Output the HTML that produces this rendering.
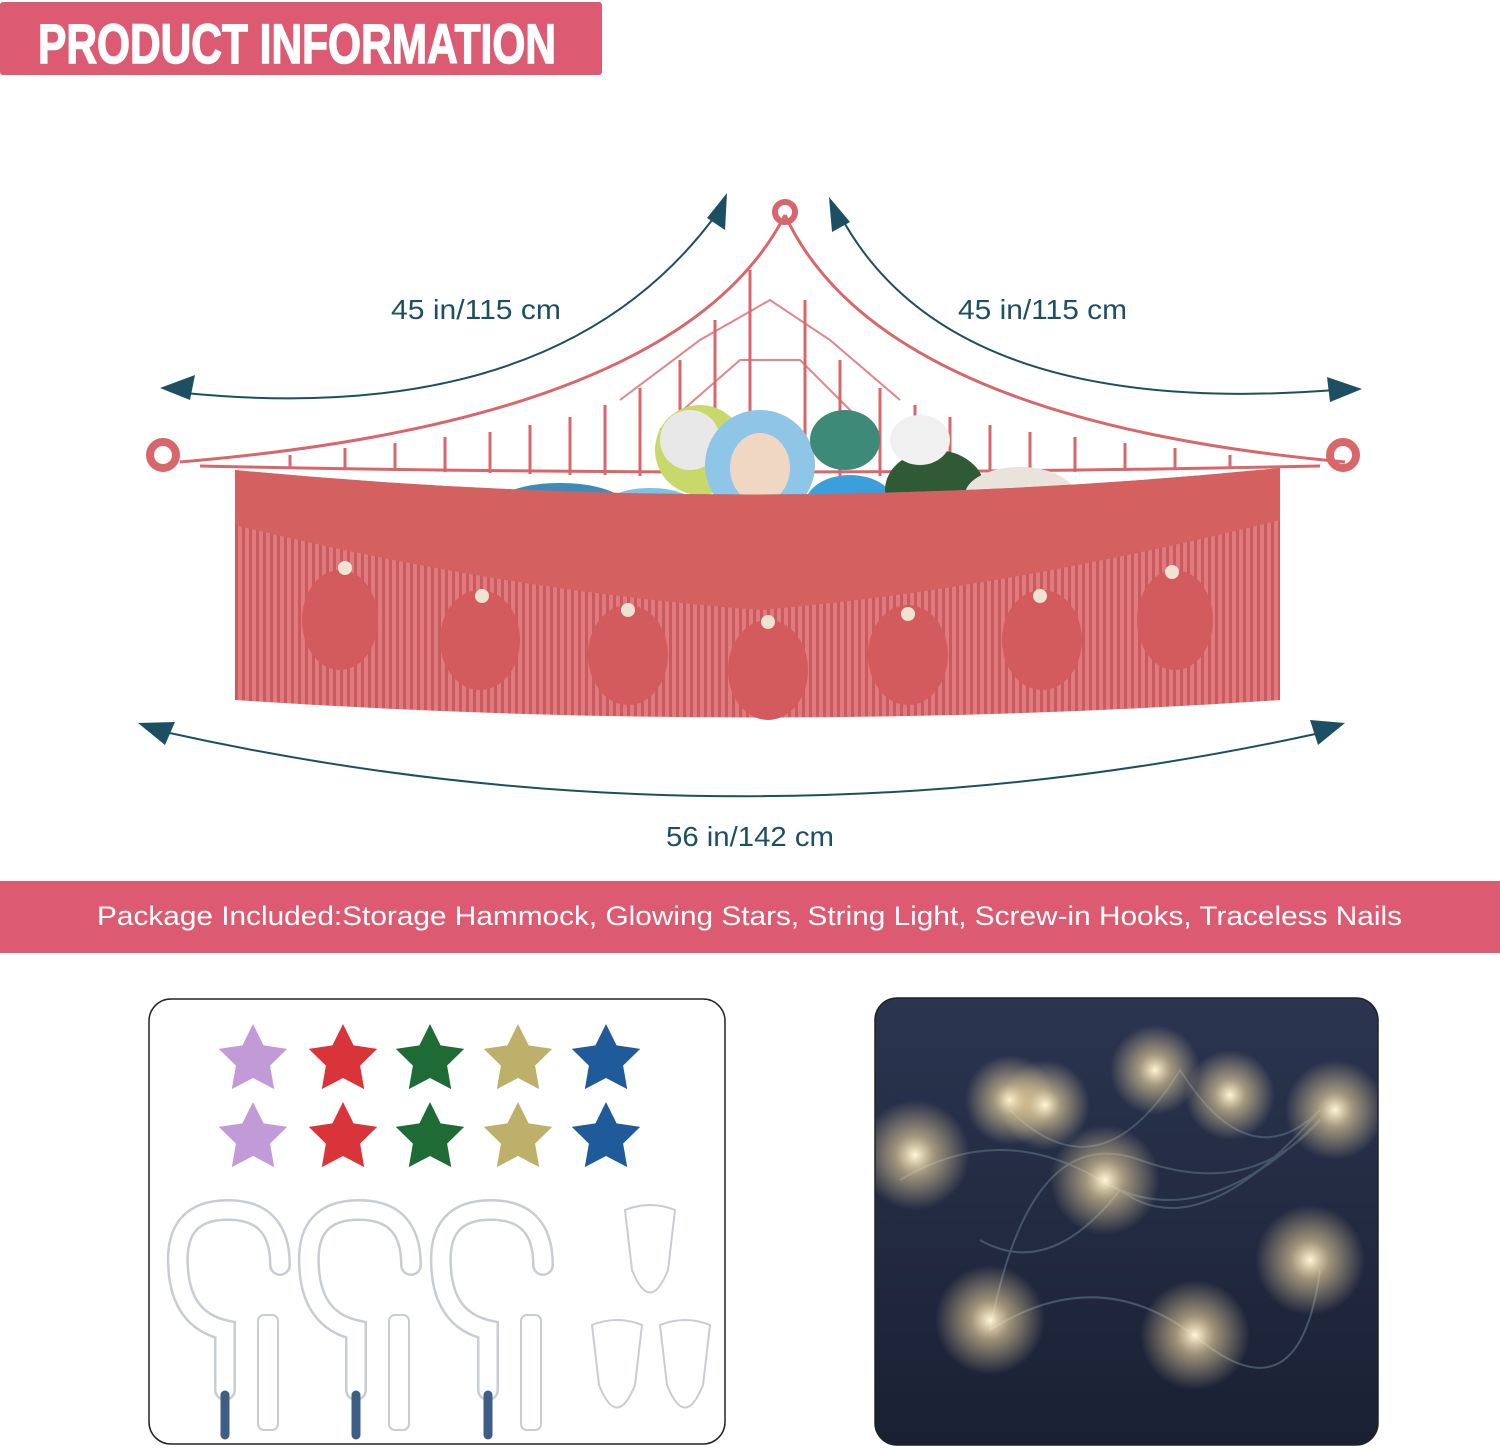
<!DOCTYPE html>
<html><head><meta charset="utf-8"><style>
html,body{margin:0;padding:0;background:#fff;}
svg{display:block;}
</style></head><body>
<svg width="1500" height="1449" viewBox="0 0 1500 1449" xmlns="http://www.w3.org/2000/svg" font-family="Liberation Sans, sans-serif">
<defs>
<path id="s" d="M0,-36 L10.6,-14.6 L34.2,-11.1 L17.1,5.6 L21.2,29.1 L0,18 L-21.2,29.1 L-17.1,5.6 L-34.2,-11.1 L-10.6,-14.6 Z"/>
<radialGradient id="glow"><stop offset="0" stop-color="#fff6d8" stop-opacity="1"/><stop offset="0.35" stop-color="#f3d9a0" stop-opacity="0.6"/><stop offset="1" stop-color="#f3d9a0" stop-opacity="0"/></radialGradient>
<linearGradient id="bg" x1="0" y1="0" x2="0" y2="1"><stop offset="0" stop-color="#2b3550"/><stop offset="1" stop-color="#1a2033"/></linearGradient>
<clipPath id="pc"><rect x="875" y="998" width="503" height="447" rx="22"/></clipPath>
<pattern id="fr" width="7" height="10" patternUnits="userSpaceOnUse"><rect width="7" height="10" fill="#e07a7c"/><rect x="4" width="3" height="10" fill="#c95a5f"/></pattern>
</defs>

<rect x="0" y="2" width="602" height="73" rx="3" fill="#dc5a72"/>
<text x="38" y="63" font-size="56" font-weight="bold" fill="#fff" stroke="#fff" stroke-width="1.5" textLength="518" lengthAdjust="spacingAndGlyphs" font-family="Liberation Sans Narrow, Liberation Sans, sans-serif">PRODUCT INFORMATION</text>

<g fill="none" stroke="#1d4f63" stroke-width="2">
<path d="M185,393 Q560,430 718,212"/>
<path d="M840,215 Q950,420 1335,390"/>
<path d="M165,732 Q740,860 1320,733"/>
</g>
<g fill="#1d4f63">
<polygon points="160,388 195,375 190,400"/>
<polygon points="727,193 725,230 707,218"/>
<polygon points="829,197 850,222 832,232"/>
<polygon points="1362,389 1327,377 1330,402"/>
<polygon points="138,723 175,722 165,745"/>
<polygon points="1345,723 1310,720 1318,745"/>
</g>
<g font-size="28" fill="#1d4f63">
<text x="391" y="319" textLength="170" lengthAdjust="spacingAndGlyphs">45 in/115 cm</text>
<text x="958" y="319" textLength="169" lengthAdjust="spacingAndGlyphs">45 in/115 cm</text>
<text x="666" y="846" textLength="168" lengthAdjust="spacingAndGlyphs">56 in/142 cm</text>
</g>

<!-- hammock net -->
<g fill="none" stroke="#d9666a" stroke-width="3">
<path d="M180,462 Q680,420 785,215"/>
<path d="M1345,462 Q880,420 785,215"/>
<path d="M200,466 Q760,478 1320,466"/>
<path d="M290,455 L290,468 M345,448 L345,470 M395,443 L395,471 M445,437 L445,472 M490,432 L490,473 M530,425 L530,474 M570,417 L570,475 M605,405 L605,475 M640,388 L640,476 M680,360 L680,476 M715,320 L715,476 M750,270 L750,476"/>
<path d="M1230,455 L1230,468 M1175,448 L1175,470 M1125,443 L1125,471 M1075,437 L1075,472 M1030,432 L1030,473 M990,425 L990,474 M950,417 L950,475 M915,405 L915,475 M880,388 L880,476 M840,360 L840,476 M805,300 L805,476"/>
</g>
<g fill="none" stroke="#d9666a" stroke-width="2" opacity="0.8">
<path d="M620,400 L700,340 L770,300 L830,340 L900,400 M660,430 L740,360 L800,360 L870,430"/>
</g>
<circle cx="785" cy="212" r="10" fill="none" stroke="#d9666a" stroke-width="6"/>
<circle cx="163" cy="455" r="13" fill="none" stroke="#d9666a" stroke-width="8"/>
<circle cx="1343" cy="455" r="13" fill="none" stroke="#d9666a" stroke-width="8"/>
<!-- toys -->
<ellipse cx="560" cy="505" rx="65" ry="22" fill="#3d8cb8"/>
<ellipse cx="700" cy="450" rx="45" ry="45" fill="#c9d86a"/>
<ellipse cx="690" cy="440" rx="30" ry="30" fill="#e8e8e8"/>
<ellipse cx="760" cy="465" rx="55" ry="55" fill="#8fc6e8"/>
<ellipse cx="760" cy="468" rx="30" ry="35" fill="#f0d7c3"/>
<ellipse cx="850" cy="505" rx="45" ry="30" fill="#3aa0dc"/>
<ellipse cx="845" cy="440" rx="35" ry="30" fill="#3e8a78"/>
<ellipse cx="935" cy="490" rx="50" ry="40" fill="#2f5a35"/>
<ellipse cx="1020" cy="495" rx="55" ry="28" fill="#e9e3dc"/>
<ellipse cx="920" cy="440" rx="30" ry="25" fill="#f0f0f0"/>
<ellipse cx="650" cy="510" rx="50" ry="22" fill="#7cc2e6"/>
<!-- fringe body -->
<path d="M235,470 Q760,520 1280,468 L1280,700 Q760,735 235,700 Z" fill="url(#fr)"/>
<path d="M235,470 Q760,520 1280,468 L1280,520 Q1000,590 760,610 Q500,590 235,525 Z" fill="#d4605f"/>
<g fill="#d35b5e">
<ellipse cx="340" cy="620" rx="38" ry="50"/><ellipse cx="480" cy="640" rx="40" ry="50"/>
<ellipse cx="628" cy="655" rx="40" ry="50"/><ellipse cx="768" cy="670" rx="40" ry="50"/>
<ellipse cx="908" cy="655" rx="40" ry="50"/><ellipse cx="1042" cy="640" rx="40" ry="50"/>
<ellipse cx="1175" cy="620" rx="38" ry="50"/>
</g>
<g fill="#efe3d2"><circle cx="345" cy="568" r="7"/><circle cx="482" cy="596" r="7"/><circle cx="628" cy="610" r="7"/><circle cx="768" cy="622" r="7"/><circle cx="908" cy="614" r="7"/><circle cx="1040" cy="596" r="7"/><circle cx="1172" cy="572" r="7"/></g>

<rect x="0" y="881" width="1500" height="72" fill="#dc5a72"/>
<text x="97" y="925" font-size="27" fill="#fff" textLength="1305" lengthAdjust="spacingAndGlyphs">Package Included:Storage Hammock, Glowing Stars, String Light, Screw-in Hooks, Traceless Nails</text>

<rect x="149" y="999" width="576" height="445" rx="22" fill="#fff" stroke="#222" stroke-width="1.5"/>
<g>
<use href="#s" x="253" y="1060" fill="#c39ad8"/><use href="#s" x="343" y="1060" fill="#d8343a"/><use href="#s" x="430" y="1060" fill="#1e6b36"/><use href="#s" x="518" y="1060" fill="#bdb06a"/><use href="#s" x="606" y="1060" fill="#1f5a9a"/>
<use href="#s" x="253" y="1138" fill="#c39ad8"/><use href="#s" x="343" y="1138" fill="#d8343a"/><use href="#s" x="430" y="1138" fill="#1e6b36"/><use href="#s" x="518" y="1138" fill="#bdb06a"/><use href="#s" x="606" y="1138" fill="#1f5a9a"/>
</g>
<g fill="none" stroke-linecap="round">
<g id="hk">
<path d="M280,1265 Q280,1210 228,1210 Q175,1210 178,1265 Q180,1320 225,1330 L225,1390" stroke="#c8ccd3" stroke-width="22"/>
<path d="M280,1265 Q280,1210 228,1210 Q175,1210 178,1265 Q180,1320 225,1330 L225,1390" stroke="#fff" stroke-width="17"/>
<line x1="225" y1="1395" x2="225" y2="1435" stroke="#3f5e86" stroke-width="9"/>
<rect x="258" y="1315" width="20" height="115" rx="6" fill="#fff" stroke="#c8ccd3" stroke-width="2"/>
</g>
<use href="#hk" x="131"/><use href="#hk" x="263"/>
</g>
<g fill="#fff" stroke="#c8ccd3" stroke-width="2">
<path d="M625,1210 Q650,1200 675,1210 L668,1270 Q650,1315 632,1270 Z"/>
<path d="M592,1325 Q617,1315 642,1325 L635,1385 Q617,1430 599,1385 Z"/>
<path d="M660,1325 Q685,1315 710,1325 L703,1385 Q685,1430 667,1385 Z"/>
</g>

<g clip-path="url(#pc)">
<rect x="875" y="998" width="503" height="447" fill="url(#bg)"/>
<g fill="none" stroke="#46566a" stroke-width="2">
<path d="M900,1180 Q1000,1120 1100,1180 T1320,1120 Q1250,1200 1140,1160 T990,1330 Q1100,1260 1200,1340 T1320,1270"/>
<path d="M1010,1110 Q1100,1200 1180,1070 Q1250,1180 1320,1110 Q1200,1250 1120,1190 Q1050,1280 980,1240"/>
</g>
<g fill="url(#glow)">
<circle cx="915" cy="1155" r="55"/><circle cx="1010" cy="1100" r="45"/><circle cx="1045" cy="1105" r="45"/>
<circle cx="1155" cy="1070" r="45"/><circle cx="1230" cy="1095" r="45"/><circle cx="1335" cy="1110" r="50"/>
<circle cx="1105" cy="1180" r="55"/><circle cx="1310" cy="1260" r="55"/><circle cx="990" cy="1320" r="55"/><circle cx="1195" cy="1335" r="55"/>
</g>
</g>
<rect x="875" y="998" width="503" height="447" rx="22" fill="none" stroke="#222" stroke-width="1.5"/>
</svg>
</body></html>
